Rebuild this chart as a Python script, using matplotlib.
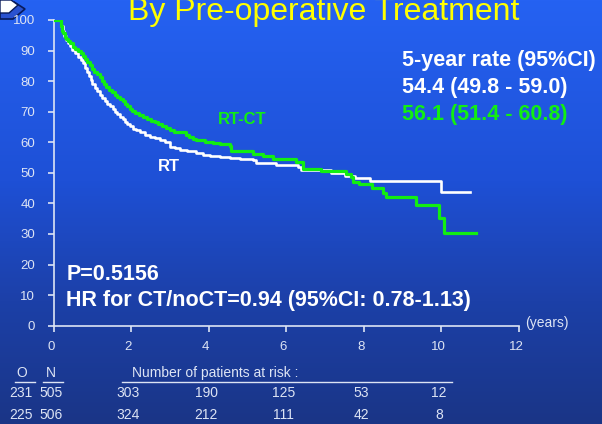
import numpy as np
import matplotlib
matplotlib.use("Agg")
import matplotlib.pyplot as plt
from matplotlib.lines import Line2D
from matplotlib.patches import Polygon
from matplotlib.transforms import ScaledTranslation

# --- data ------------------------------------------------------------------
rt_time = [0, 0.16, 0.18, 0.2, 0.23, 0.27, 0.31, 0.36, 0.42, 0.48, 0.55, 0.62,
           0.7, 0.76, 0.81, 0.86, 0.9, 0.95, 1.0, 1.06, 1.12, 1.19, 1.25, 1.32,
           1.38, 1.45, 1.52, 1.58, 1.64, 1.71, 1.78, 1.84, 1.9, 1.96, 2.05,
           2.12, 2.22, 2.35, 2.48, 2.6, 2.75, 2.88, 2.99, 3.0, 3.12, 3.25,
           3.45, 3.68, 3.85, 4.02, 4.3, 4.54, 4.8, 5.14, 5.22, 5.74, 6.3, 6.38,
           7.16, 7.5, 7.76, 8.16, 9.99, 10.73]
rt_surv = [100, 100, 99.0, 98.0, 96.3, 94.8, 93.6, 92.6, 91.5, 90.3, 89.1, 87.9,
           86.9, 85.8, 84.4, 83.0, 81.8, 80.4, 79.2, 77.9, 76.7, 75.5, 74.6, 73.4,
           72.6, 71.9, 70.9, 70.0, 69.2, 68.4, 67.5, 66.6, 65.9, 65.2, 64.5,
           63.9, 63.3, 62.3, 61.7, 61.3, 60.7, 60.2, 59.6, 58.6, 58.1, 57.6,
           57.2, 56.6, 56.0, 55.5, 55.1, 54.8, 54.5, 54.2, 53.1, 52.6, 52.0, 51.0,
           49.8, 49.1, 48.4, 47.3, 43.6, 43.6]

rtct_time = [0, 0.16, 0.18, 0.2, 0.22, 0.25, 0.28, 0.31, 0.36, 0.42, 0.5, 0.56,
             0.62, 0.7, 0.76, 0.81, 0.87, 0.93, 0.99, 1.05, 1.12, 1.19, 1.25,
             1.3, 1.36, 1.42, 1.5, 1.57, 1.64, 1.72, 1.79, 1.85, 1.9, 1.96,
             2.03, 2.1, 2.2, 2.31, 2.4, 2.5, 2.6, 2.7, 2.8, 2.9, 3.0, 3.1, 3.25,
             3.42, 3.5, 3.6, 3.68, 3.9, 4.11, 4.3, 4.54, 4.58, 5.14, 5.4, 5.65,
             6.25, 6.42, 6.9, 7.45, 7.54, 7.67, 7.71, 7.88, 8.21, 8.48, 8.57,
             9.34, 9.94, 10.07, 10.89]
rtct_surv = [100, 100, 99.0, 98.0, 96.5, 95.6, 94.5, 93.8, 93.2, 92.4, 91.3, 90.6,
             89.9, 89.2, 88.2, 87.1, 86.2, 85.3, 84.1, 83.1, 82.3, 81.4, 80.2,
             79.0, 78.0, 77.1, 76.3, 75.6, 74.9, 74.3, 73.6, 72.6, 71.8, 71.0,
             70.1, 69.5, 68.9, 68.4, 67.7, 67.1, 66.5, 65.9, 65.3, 64.6, 64.0,
             63.5, 63.2, 62.4, 61.6, 61.0, 60.6, 60.2, 59.8, 59.3, 58.8, 57.0,
             56.1, 55.4, 54.6, 53.6, 51.3, 50.6, 50.6, 49.5, 48.7, 47.1, 46.3,
             44.9, 43.5, 42.2, 39.5, 35.1, 30.2, 30.2]

xticks = [0, 2, 4, 6, 8, 10, 12]
yticks = [0, 10, 20, 30, 40, 50, 60, 70, 80, 90, 100]

risk_times = [2, 4, 6, 8, 10]
risk_rt = [303, 190, 125, 53, 12]
risk_rtct = [324, 212, 111, 42, 8]
obs_events = [231, 225]
n_patients = [505, 506]

rate_lines = ["5-year rate (95%CI)", "54.4 (49.8 - 59.0)", "56.1 (51.4 - 60.8)"]

# --- style -----------------------------------------------------------------
W, H = 602, 424
GREEN = "#12ee12"
LIGHT = "#dde4f4"
plt.rcParams["font.family"] = ["Liberation Sans", "DejaVu Sans"]


def fx(x):
    return x / W


def fy(y):
    return 1 - y / H


fig = plt.figure(figsize=(W / 100, H / 100), dpi=100)

# slide background: vertical blue gradient
bg = fig.add_axes([0, 0, 1, 1], zorder=-10)
rows = np.arange(H)
stops_y = [0, 180, 300, 424]
r = np.interp(rows, stops_y, [0x25, 0x1E, 0x1C, 0x1A])
g = np.interp(rows, stops_y, [0x62, 0x50, 0x40, 0x35])
b = np.interp(rows, stops_y, [0xF2, 0xD6, 0xA8, 0x86])
grad = np.stack([r, g, b], axis=1)[:, None, :] / 255.0
bg.imshow(np.repeat(grad, 2, axis=1), aspect="auto", extent=[0, 1, 0, 1])
bg.set_xlim(0, 1)
bg.set_ylim(0, 1)
bg.axis("off")

# small decorative icon in the top-left corner
bg.add_patch(Polygon([(fx(0), fy(2)), (fx(14), fy(2)), (fx(25), fy(9)),
                      (fx(13), fy(19)), (fx(0), fy(19))],
                     closed=True, fc="#2a52d0", ec="#081a5a", lw=1.2))
bg.add_patch(Polygon([(fx(0), fy(0)), (fx(11), fy(0)), (fx(18), fy(5)),
                      (fx(9), fy(13)), (fx(0), fy(13))],
                     closed=True, fc="white", ec="#081a5a", lw=1.0))

ax = fig.add_axes([fx(53.7), fy(325.7), fx(519) - fx(53.7), fy(20) - fy(325.7)])
ax.set_facecolor("none")

ax.step(rt_time, rt_surv, where="post", color="white", lw=1.9, zorder=3)
ax.step(rtct_time, rtct_surv, where="post", color=GREEN, lw=2.3, zorder=4)

ax.set_xlim(0, 12)
ax.set_ylim(0, 100)
ax.set_xticks(xticks)
ax.set_yticks(yticks)
for s in ["top", "right"]:
    ax.spines[s].set_visible(False)
for s in ["left", "bottom"]:
    ax.spines[s].set_color(LIGHT)
    ax.spines[s].set_linewidth(1.2)
ax.tick_params(axis="both", colors=LIGHT, labelcolor=LIGHT, labelsize=9.5,
               direction="out", length=4, width=1.2)
ax.tick_params(axis="y", pad=9.5)
ax.tick_params(axis="x", pad=7)
shift = ScaledTranslation(-3 / 100, 0, fig.dpi_scale_trans)
for lab in ax.get_xticklabels():
    lab.set_transform(lab.get_transform() + shift)

# annotations inside the plot
ax.text(4.85, 67.6, "RT-CT", color=GREEN, fontsize=12, fontweight="bold",
        ha="center", va="center")
ax.text(2.97, 52.2, "RT", color="white", fontsize=12, fontweight="bold",
        ha="center", va="center")
for i, (txt, col) in enumerate(zip(rate_lines, ["white", "white", GREEN])):
    ax.text(8.98, 86.6 - i * 8.8, txt, color=col, fontsize=15.5,
            fontweight="bold", ha="left", va="center", clip_on=False)
ax.text(0.33, 16.7, "P=0.5156", color="white", fontsize=15.5,
        fontweight="bold", ha="left", va="center")
ax.text(0.33, 8.2, "HR for CT/noCT=0.94 (95%CI: 0.78-1.13)", color="white",
        fontsize=15.5, fontweight="bold", ha="left", va="center")
ax.text(12.17, 0.8, "(years)", color=LIGHT, fontsize=10, ha="left",
        va="center", clip_on=False)

# title (partly cut off at the top of the slide, as in the reference)
fig.text(fx(323.6), fy(20), "By Pre-operative Treatment", color="#ffff00",
         fontsize=23, ha="center", va="baseline")

# number-at-risk table
fig.text(fx(21.3), fy(373.3), "O", color=LIGHT, fontsize=10, ha="center", va="center")
fig.text(fx(50.7), fy(373.3), "N", color=LIGHT, fontsize=10, ha="center", va="center")
fig.text(fx(131.7), fy(373.3), "Number of patients at risk :", color=LIGHT,
         fontsize=10, ha="left", va="center")
for x0, x1 in [(15, 35), (43, 63), (121.7, 452.3)]:
    fig.add_artist(Line2D([fx(x0), fx(x1)], [fy(381.7), fy(381.7)],
                          transform=fig.transFigure, color=LIGHT, lw=1.0))

row_y = [392.7, 415]
for k, counts in enumerate([risk_rt, risk_rtct]):
    fig.text(fx(21.3), fy(row_y[k]), str(obs_events[k]), color=LIGHT,
             fontsize=10, ha="center", va="center")
    fig.text(fx(50.7), fy(row_y[k]), str(n_patients[k]), color=LIGHT,
             fontsize=10, ha="center", va="center")
    for t, n in zip(risk_times, counts):
        xpix = 53.7 + t * 38.85 - 3
        fig.text(fx(xpix), fy(row_y[k]), str(n), color=LIGHT, fontsize=10,
                 ha="center", va="center")

fig.savefig("out.png", dpi=100)
